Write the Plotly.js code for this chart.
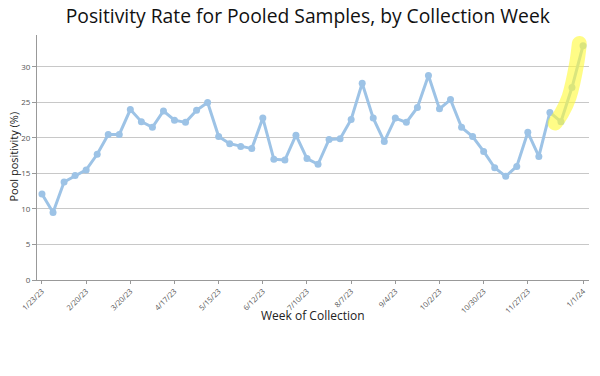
<!DOCTYPE html>
<html>
<head>
<meta charset="utf-8">
<script src="https://cdn.plot.ly/plotly-3.0.1.min.js"></script>
<style>
html, body { margin: 0; padding: 0; background: #fff; }
#chart { width: 600px; height: 376px; }
.scatterlayer .trace:nth-child(2) path.js-line { stroke-linecap: round; stroke-linejoin: round; }
</style>
</head>
<body>
<div id="chart"></div>
<script>
// Weekly collection dates
const weekDates = [
  '2023-01-23','2023-01-30','2023-02-06','2023-02-13','2023-02-20','2023-02-27',
  '2023-03-06','2023-03-13','2023-03-20','2023-03-27','2023-04-03','2023-04-10',
  '2023-04-17','2023-04-24','2023-05-01','2023-05-08','2023-05-15','2023-05-22',
  '2023-05-29','2023-06-05','2023-06-12','2023-06-19','2023-06-26','2023-07-03',
  '2023-07-10','2023-07-17','2023-07-24','2023-07-31','2023-08-07','2023-08-14',
  '2023-08-21','2023-08-28','2023-09-04','2023-09-11','2023-09-18','2023-09-25',
  '2023-10-02','2023-10-09','2023-10-16','2023-10-23','2023-10-30','2023-11-06',
  '2023-11-13','2023-11-20','2023-11-27','2023-12-04','2023-12-11','2023-12-18',
  '2023-12-25','2024-01-01'
];

// Pool positivity (%)
const positivity = [
  12.1, 9.5, 13.8, 14.7, 15.5, 17.7, 20.5, 20.5, 24.0, 22.3,
  21.5, 23.8, 22.5, 22.2, 23.9, 25.0, 20.2, 19.2, 18.8, 18.5,
  22.8, 17.0, 16.9, 20.4, 17.1, 16.3, 19.8, 19.9, 22.6, 27.7,
  22.8, 19.5, 22.8, 22.2, 24.3, 28.8, 24.1, 25.4, 21.5, 20.2,
  18.1, 15.8, 14.6, 16.0, 20.8, 17.4, 23.6, 22.3, 27.1, 33.0
];

// Tick positions and labels on the x axis
const tickDates = [
  '2023-01-23','2023-02-20','2023-03-20','2023-04-17','2023-05-15','2023-06-12',
  '2023-07-10','2023-08-07','2023-09-04','2023-10-02','2023-10-30','2023-11-27','2024-01-01'
];
const tickLabels = [
  '1/23/23','2/20/23','3/20/23','4/17/23','5/15/23','6/12/23',
  '7/10/23','8/7/23','9/4/23','10/2/23','10/30/23','11/27/23','1/1/24'
];

// Highlighter stroke over the recent rise
const highlightDates = ['2023-12-14 07:00','2023-12-18 12:00','2023-12-23 05:00','2023-12-28 00:00','2023-12-29 16:00'];
const highlightValues = [22.1, 23.5, 25.8, 30.5, 33.3];

const blue = '#9dc3e6';

const traces = [
  {
    x: weekDates, y: positivity, type: 'scatter', mode: 'lines+markers',
    line: { color: blue, width: 3 },
    marker: { color: blue, size: 7 },
    hoverinfo: 'x+y'
  },
  {
    x: highlightDates, y: highlightValues, type: 'scatter', mode: 'lines',
    line: { color: 'rgba(255,250,60,0.62)', width: 15, shape: 'spline' },
    hoverinfo: 'skip'
  }
];

const layout = {
  width: 600, height: 376,
  margin: { l: 37, r: 11, t: 35, b: 96 },
  paper_bgcolor: '#fff', plot_bgcolor: '#fff',
  showlegend: false,
  font: { family: 'Open Sans, sans-serif', color: '#222' },
  title: {
    text: 'Positivity Rate for Pooled Samples, by Collection Week',
    font: { family: 'Open Sans, sans-serif', size: 19.3, color: '#111' },
    x: 0.513, xanchor: 'center', xref: 'container',
    y: 0.958, yanchor: 'middle', yref: 'container'
  },
  xaxis: {
    type: 'date',
    range: ['2023-01-19 20:00', '2024-01-04 19:00'],
    tickmode: 'array', tickvals: tickDates, ticktext: tickLabels,
    tickangle: -45,
    tickfont: { size: 7.5, color: '#555' },
    ticks: 'outside', ticklen: 3, tickcolor: '#999',
    showgrid: false, zeroline: false,
    showline: true, linecolor: '#999', linewidth: 1
  },
  yaxis: {
    range: [0, 34.5], dtick: 5, tick0: 0,
    tickfont: { size: 8, color: '#555' },
    ticks: 'outside', ticklen: 4, tickcolor: '#999',
    showgrid: true, gridcolor: '#c8c8c8', gridwidth: 1,
    zeroline: false,
    showline: true, linecolor: '#999', linewidth: 1
  },
  annotations: [
    {
      text: 'Pool positivity (%)', textangle: -90,
      xref: 'paper', yref: 'paper', x: -0.0417, y: 0.504,
      xanchor: 'center', yanchor: 'middle', showarrow: false,
      font: { size: 11, color: '#222' }
    },
    {
      text: 'Week of Collection',
      xref: 'paper', yref: 'paper', x: 0.5, y: -0.145,
      xanchor: 'center', yanchor: 'middle', showarrow: false,
      font: { size: 12, color: '#222' }
    }
  ]
};

Plotly.newPlot('chart', traces, layout, { displayModeBar: false, staticPlot: true });
</script>
</body>
</html>
